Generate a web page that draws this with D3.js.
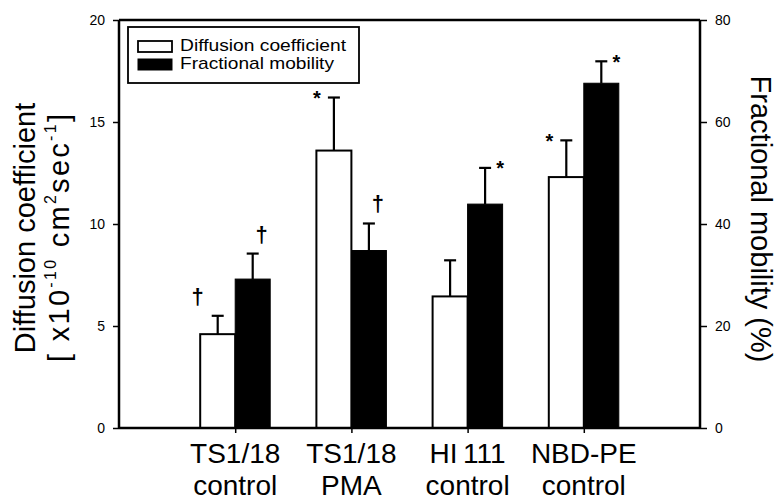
<!DOCTYPE html>
<html>
<head>
<meta charset="utf-8">
<script src="https://cdn.jsdelivr.net/npm/d3@7"></script>
<style>
  html, body { margin: 0; padding: 0; background: #fff; }
  svg { display: block; font-family: "Liberation Sans", Arial, Helvetica, sans-serif; }
</style>
</head>
<body>
<svg id="chart" width="780" height="500"></svg>
<script>
// ---- data ----
const categoriesLine1 = ["TS1/18", "TS1/18", "HI\u2009111", "NBD-PE"];
const categoriesLine2 = ["control", "PMA", "control", "control"];
const diffusionValues = [4.6, 13.6, 6.45, 12.3];      // x10^-10 cm^2 sec^-1 (left axis)
const diffusionErrors = [0.9, 2.6, 1.77, 1.8];
const mobilityValues = [29.2, 34.8, 43.9, 67.6];      // % (right axis)
const mobilityErrors = [5.0, 5.3, 7.1, 4.3];
const diffusionMarks = ["\u2020", "*", "", "*"];
const mobilityMarks = ["\u2020", "\u2020", "*", "*"];
const leftTicks = [0, 5, 10, 15, 20];
const rightTicks = [0, 20, 40, 60, 80];
const legendLabels = ["Diffusion coefficient", "Fractional mobility"];

// ---- layout ----
const svg = d3.select("#chart");
const L = 119, R = 700, T = 20, B = 428;
const x = d3.scaleLinear().domain([0, 5]).range([L, R]);
const yL = d3.scaleLinear().domain([0, 20]).range([B, T]);
const yR = d3.scaleLinear().domain([0, 80]).range([B, T]);
const barW = 35;
const idx = d3.range(categoriesLine1.length);

// bars
const g = svg.append("g");
g.selectAll("rect.diff").data(idx).join("rect")
  .attr("class", "diff")
  .attr("x", i => x(i + 1) - barW)
  .attr("y", i => yL(diffusionValues[i]))
  .attr("width", barW)
  .attr("height", i => B - yL(diffusionValues[i]))
  .attr("fill", "#fff").attr("stroke", "#000").attr("stroke-width", 2);
g.selectAll("rect.mob").data(idx).join("rect")
  .attr("class", "mob")
  .attr("x", i => x(i + 1))
  .attr("y", i => yR(mobilityValues[i]))
  .attr("width", barW)
  .attr("height", i => B - yR(mobilityValues[i]))
  .attr("fill", "#000").attr("stroke", "#000").attr("stroke-width", 1);

// error bars
function errBar(cx, yTop, yBar) {
  g.append("line").attr("x1", cx).attr("x2", cx).attr("y1", yBar).attr("y2", yTop)
    .attr("stroke", "#000").attr("stroke-width", 2.2);
  g.append("line").attr("x1", cx - 6).attr("x2", cx + 6).attr("y1", yTop).attr("y2", yTop)
    .attr("stroke", "#000").attr("stroke-width", 2.2);
}
idx.forEach(i => {
  const cxD = x(i + 1) - barW / 2;
  const topD = yL(diffusionValues[i] + diffusionErrors[i]);
  errBar(cxD, topD, yL(diffusionValues[i]));
  const cxM = x(i + 1) + barW / 2;
  const topM = yR(mobilityValues[i] + mobilityErrors[i]);
  errBar(cxM, topM, yR(mobilityValues[i]));

  function mark(sym, cx, top, side) {
    if (!sym) return;
    if (sym === "*") {
      g.append("text").attr("x", cx + (side < 0 ? -17 : 15)).attr("y", top - 4 + 11.5)
        .attr("text-anchor", "middle").attr("font-size", 20).attr("font-weight", "bold").text("*");
    } else {
      g.append("text").attr("x", cx + (side < 0 ? -20 : 9)).attr("y", top - 18 + 6)
        .attr("text-anchor", "middle").attr("font-size", 22).attr("font-weight", "bold").text(sym);
    }
  }
  mark(diffusionMarks[i], cxD, topD, -1);
  mark(mobilityMarks[i], cxM, topM, 1);
});

// axes
const axL = svg.append("g").attr("transform", `translate(${L},0)`)
  .call(d3.axisLeft(yL).tickValues(leftTicks).tickSize(6).tickPadding(8));
const axR = svg.append("g").attr("transform", `translate(${R},0)`)
  .call(d3.axisRight(yR).tickValues(rightTicks).tickSize(7).tickPadding(8));
const axB = svg.append("g").attr("transform", `translate(0,${B})`)
  .call(d3.axisBottom(x).tickValues(idx.map(i => i + 1)).tickSize(5).tickFormat(""));
[axL, axR, axB].forEach(a => {
  a.select(".domain").attr("stroke", "#000").attr("stroke-width", 2.5);
  a.selectAll(".tick line").attr("stroke", "#000").attr("stroke-width", 1.5);
  a.selectAll("text").attr("font-size", 14).attr("fill", "#000")
    .attr("font-family", "'Liberation Sans', Arial, sans-serif");
});
axL.select(".domain").attr("d", `M0,${T}V${B}`);
axR.select(".domain").attr("d", `M0,${T}V${B}`);
axB.select(".domain").attr("d", `M${L},0H${R}`);
svg.append("line").attr("x1", L).attr("x2", R).attr("y1", T).attr("y2", T)
  .attr("stroke", "#000").attr("stroke-width", 2.5);

// category labels
const cl = svg.append("g").attr("font-size", 28).attr("text-anchor", "middle");
idx.forEach(i => {
  cl.append("text").attr("x", x(i + 1)).attr("y", 463).text(categoriesLine1[i]);
  cl.append("text").attr("x", x(i + 1)).attr("y", 495).text(categoriesLine2[i]);
});

// left title
svg.append("text").attr("transform", "translate(35,228) rotate(-90)")
  .attr("text-anchor", "middle").attr("font-size", 29).text("Diffusion coefficient");
const t2 = svg.append("text").attr("transform", "translate(69,238) rotate(-90)")
  .attr("text-anchor", "middle").attr("font-size", 29)
  .attr("textLength", 248).attr("lengthAdjust", "spacing");
t2.append("tspan").text("[ x10");
t2.append("tspan").attr("font-size", 16).attr("dy", -13).text("-10");
t2.append("tspan").attr("dy", 13).text(" cm");
t2.append("tspan").attr("font-size", 16).attr("dy", -13).text("2");
t2.append("tspan").attr("dy", 13).text("sec");
t2.append("tspan").attr("font-size", 16).attr("dy", -13).text("-1");
t2.append("tspan").attr("dy", 13).text("]");

// right title
svg.append("text").attr("transform", "translate(751,219) rotate(90)")
  .attr("text-anchor", "middle").attr("font-size", 29).text("Fractional mobility (%)");

// legend
const lg = svg.append("g");
lg.append("rect").attr("x", 128).attr("y", 27).attr("width", 231).attr("height", 56)
  .attr("fill", "#fff").attr("stroke", "#000").attr("stroke-width", 1.8);
lg.append("rect").attr("x", 138).attr("y", 41).attr("width", 34).attr("height", 11)
  .attr("fill", "#fff").attr("stroke", "#000").attr("stroke-width", 1.8);
lg.append("rect").attr("x", 138).attr("y", 59).attr("width", 34).attr("height", 11)
  .attr("fill", "#000").attr("stroke", "#000").attr("stroke-width", 1);
lg.append("text").attr("x", 180).attr("y", 51).attr("font-size", 17)
  .attr("textLength", 166).attr("lengthAdjust", "spacingAndGlyphs").text(legendLabels[0]);
lg.append("text").attr("x", 180).attr("y", 69).attr("font-size", 17)
  .attr("textLength", 154).attr("lengthAdjust", "spacingAndGlyphs").text(legendLabels[1]);
</script>
</body>
</html>
